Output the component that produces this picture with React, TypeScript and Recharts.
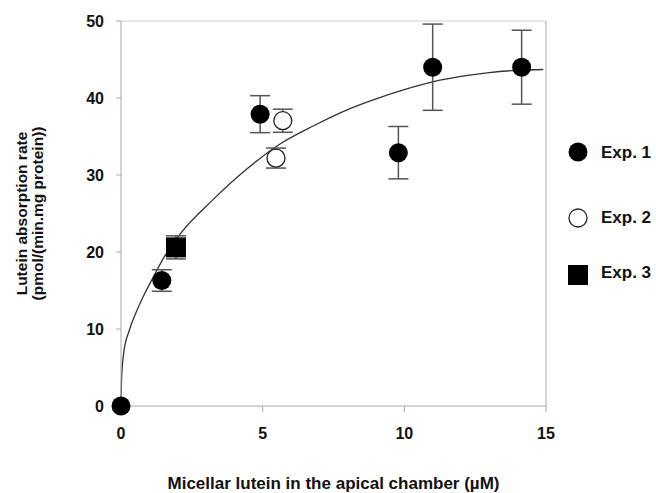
import React from 'react';
import { ComposedChart, Scatter, Line, XAxis, YAxis, ErrorBar, ReferenceLine, Label } from 'recharts';

// Exp. 1 (filled circles)
const exp1X = [0, 1.44, 4.91, 9.79, 11.0, 14.14];
const exp1Y = [0, 16.3, 37.9, 32.9, 44.0, 44.0];
const exp1Err = [0, 1.4, 2.4, 3.4, 5.6, 4.8];
// Exp. 2 (open circles)
const exp2X = [5.47, 5.71];
const exp2Y = [32.2, 37.05];
const exp2Err = [1.3, 1.5];
// Exp. 3 (square)
const exp3X = [1.94];
const exp3Y = [20.6];
const exp3Err = [1.5];
// Fitted curve
const curveX = [0, 0.02, 0.1, 0.3, 0.55, 0.85, 1.15, 1.5, 2.1, 3.25, 4.45, 5.6, 6.8, 8.0, 9.0, 10.0, 11.0, 12.0, 13.0, 14.0, 14.9];
const curveY = [0, 3.5, 7, 9.9, 12.3, 14.7, 16.8, 19.2, 22.4, 26.8, 30.8, 34.0, 36.4, 38.5, 39.9, 41.1, 42.1, 42.8, 43.3, 43.6, 43.7];

const xTicks = [0, 5, 10, 15];
const yTicks = [0, 10, 20, 30, 40, 50];
const seriesNames = ['Exp. 1', 'Exp. 2', 'Exp. 3'];
const xTitle = 'Micellar lutein in the apical chamber (µM)';
const yTitle1 = 'Lutein absorption rate';
const yTitle2 = '(pmol/(min.mg protein))';

const zip = (xs: number[], ys: number[], es?: number[]) =>
  xs.map((x, i) => ({ x, y: ys[i], err: es ? es[i] : 0 }));

const exp1 = zip(exp1X, exp1Y, exp1Err);
const exp2 = zip(exp2X, exp2Y, exp2Err);
const exp3 = zip(exp3X, exp3Y, exp3Err);
const allErr = [...exp1, ...exp2, ...exp3].filter((d) => d.err > 0);
const curve = zip(curveX, curveY);

const FONT = '"Liberation Sans", Arial, sans-serif';
const AXIS = '#a8a8a8';

const FilledCircle = (p: any) => <circle cx={p.cx} cy={p.cy} r={9.5} fill="#000" />;
const OpenCircle = (p: any) => <circle cx={p.cx} cy={p.cy} r={9} fill="#fff" stroke="#222" strokeWidth={1.3} />;
const Square = (p: any) => <rect x={p.cx - 10} y={p.cy - 10} width={20} height={20} fill="#000" />;
const Nothing = () => <g />;

const tickStyle = { fontFamily: FONT, fontWeight: 700, fontSize: 16, fill: '#111' };

export default function App() {
  return (
    <div style={{ position: 'absolute', left: 0, top: 0, width: 656, height: 493, overflow: 'hidden', background: '#fff' }}>
      <ComposedChart width={656} height={493} margin={{ top: 21, right: 110, bottom: 0, left: 0 }}>
        <XAxis
          type="number"
          dataKey="x"
          domain={[0, 15]}
          ticks={xTicks}
          height={87}
          tickSize={6}
          tickMargin={16}
          stroke={AXIS}
          tick={tickStyle}
          axisLine={{ stroke: AXIS }}
          tickLine={{ stroke: AXIS }}
        >
          <Label
            content={(props: any) => {
              const vb = props.viewBox;
              return (
                <text x={vb.x + vb.width / 2} y={489} textAnchor="middle" fontFamily={FONT} fontWeight={700} fontSize={17} fill="#111">
                  {xTitle}
                </text>
              );
            }}
          />
        </XAxis>
        <YAxis
          type="number"
          dataKey="y"
          domain={[0, 50]}
          ticks={yTicks}
          width={121}
          tickSize={5}
          tickMargin={12}
          stroke={AXIS}
          tick={tickStyle}
          axisLine={{ stroke: AXIS }}
          tickLine={{ stroke: AXIS }}
        >
          <Label
            content={(props: any) => {
              const vb = props.viewBox;
              const cy = vb.y + vb.height / 2;
              return (
                <g fontFamily={FONT} fontWeight={700} fontSize={15.5} fill="#111">
                  <text x={27} y={cy} textAnchor="middle" transform={`rotate(-90 27 ${cy})`}>{yTitle1}</text>
                  <text x={43} y={cy} textAnchor="middle" transform={`rotate(-90 43 ${cy})`}>{yTitle2}</text>
                </g>
              );
            }}
          />
        </YAxis>
        <ReferenceLine y={50} stroke="#d0d0d0" strokeWidth={1} />
        <ReferenceLine x={15} stroke={AXIS} strokeWidth={1} />
        <Line data={curve} dataKey="y" type="monotone" dot={false} activeDot={false} stroke="#333" strokeWidth={1.3} isAnimationActive={false} />
        <Scatter data={allErr} dataKey="y" shape={Nothing} isAnimationActive={false}>
          <ErrorBar dataKey="err" direction="y" width={10} stroke="#555" strokeWidth={1.5} isAnimationActive={false} />
        </Scatter>
        <Scatter data={exp1} dataKey="y" shape={FilledCircle} isAnimationActive={false} />
        <Scatter data={exp2} dataKey="y" shape={OpenCircle} isAnimationActive={false} />
        <Scatter data={exp3} dataKey="y" shape={Square} isAnimationActive={false} />
      </ComposedChart>
      <svg style={{ position: 'absolute', left: 560, top: 130, width: 96, height: 170 }} width={96} height={170}>
        <g fontFamily={FONT} fontWeight={700} fontSize={17} fill="#111">
          <circle cx={18} cy={22} r={9.5} fill="#000" />
          <text x={41} y={28}>{seriesNames[0]}</text>
          <circle cx={18} cy={88} r={9} fill="#fff" stroke="#222" strokeWidth={1.3} />
          <text x={41} y={93}>{seriesNames[1]}</text>
          <rect x={8} y={135} width={20} height={20} fill="#000" />
          <text x={41} y={148}>{seriesNames[2]}</text>
        </g>
      </svg>
    </div>
  );
}
